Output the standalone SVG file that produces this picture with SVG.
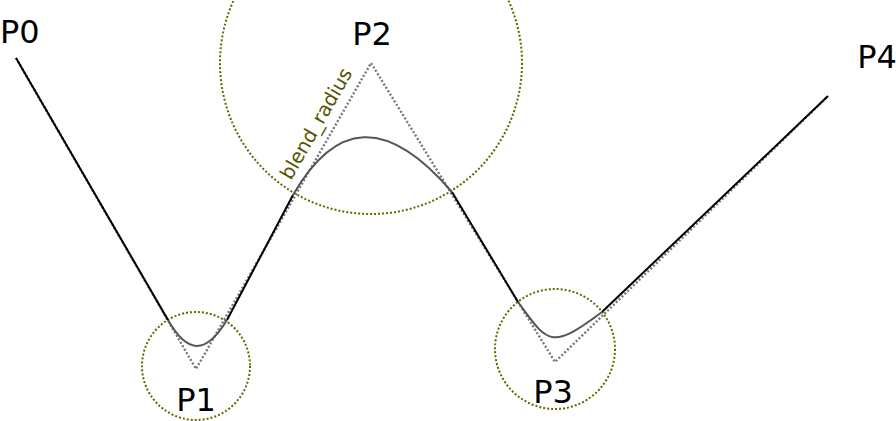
<svg xmlns="http://www.w3.org/2000/svg" width="896" height="421" viewBox="0 0 896 421">
<style>
.lbl{font-family:"DejaVu Sans",sans-serif;font-size:32px;fill:#000}
.circ{fill:none;stroke:#666600;stroke-width:2;stroke-dasharray:2,2}
.guide{fill:none;stroke:#777;stroke-width:2.4;stroke-dasharray:2,2}
.seg{fill:none;stroke:#000;stroke-width:2}
.blend{fill:none;stroke:#555;stroke-width:2}
</style>
<rect width="896" height="421" fill="#fff"/>
<g id="circles">
<circle id="c1" class="circ" cx="196" cy="366" r="54"/>
<circle id="c2" class="circ" cx="371" cy="63" r="151"/>
<circle id="c3" class="circ" cx="555" cy="349" r="60"/>
</g>
<g id="connectors">
<polyline class="guide" points="16,58 196,369 371,63 555,362 828,96"/>
<path class="seg" d="M16,58 L168,320 M227,320 L293,195 M452,192 L518,302 M602,312 L828,96"/>
<path class="blend" d="M168,320 C187.8,354.6 205.9,354.6 227,320"/>
<path class="blend" d="M293,195 C335,122 386,115 452,192"/>
<path class="blend" d="M518,302 C548,343 550,351 602,312"/>
</g>
<g id="P0"><text class="lbl" x="0" y="43">P0</text></g>
<g id="P1"><text class="lbl" x="196" y="411" text-anchor="middle">P1</text></g>
<g id="P2"><text class="lbl" x="372" y="45" text-anchor="middle">P2</text></g>
<g id="P3"><text class="lbl" x="553" y="403" text-anchor="middle">P3</text></g>
<g id="P4"><text class="lbl" x="877" y="68" text-anchor="middle">P4</text></g>
<text font-family="DejaVu Sans,sans-serif" font-size="19.5" fill="#555500" transform="translate(291,181) rotate(-60.2)">blend_radius</text>
</svg>
